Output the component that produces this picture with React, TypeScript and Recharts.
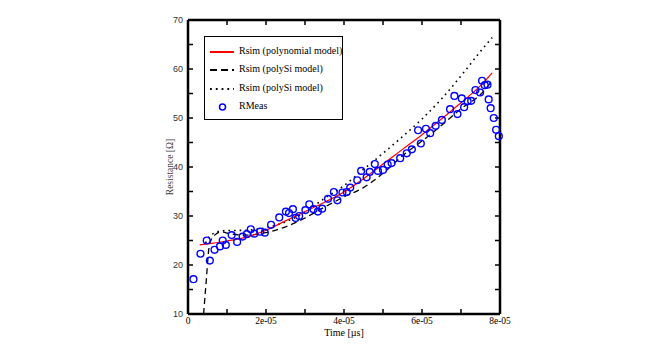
import React from 'react';
import {
  ComposedChart,
  Line,
  Scatter,
  XAxis,
  YAxis
} from 'recharts';

// time in units of 1e-5
const measTime = [
  0.14, 0.32, 0.48, 0.56, 0.68, 0.82, 0.89, 0.97, 1.12, 1.26, 1.4, 1.51, 1.61, 1.7, 1.85, 1.97,
  2.13, 2.34, 2.51, 2.59, 2.69, 2.76, 2.85, 3.01, 3.11, 3.22, 3.33, 3.44, 3.59, 3.74, 3.83, 3.96,
  4.07, 4.16, 4.34, 4.44, 4.58, 4.66, 4.79, 4.87, 5.0, 5.12, 5.22, 5.44, 5.61, 5.74, 5.9, 5.97,
  6.1, 6.21, 6.35, 6.51, 6.72, 6.83, 6.91, 7.02, 7.08, 7.17, 7.26, 7.37, 7.49, 7.54, 7.61, 7.68,
  7.71, 7.76, 7.84, 7.9, 7.97
];
const measR = [
  17.1, 22.3, 25.0, 20.9, 23.1, 23.8, 25.0, 24.1, 26.1, 24.7, 25.8, 26.3, 27.3, 26.4, 26.8, 26.6,
  28.2, 29.7, 30.9, 30.6, 31.4, 29.6, 30.0, 31.2, 32.4, 31.4, 30.9, 31.5, 33.5, 34.9, 33.2, 34.8,
  34.9, 35.8, 37.3, 39.2, 37.9, 39.0, 40.6, 39.2, 39.4, 40.5, 40.8, 41.8, 42.8, 43.6, 47.5, 44.8,
  47.8, 46.9, 48.4, 49.6, 51.8, 54.5, 50.8, 54.0, 52.2, 53.4, 53.5, 55.7, 55.2, 57.6, 56.7, 56.8,
  53.8, 52.0, 50.0, 47.6, 46.3
];

const polyTime = [0.3, 0.5, 1.0, 1.5, 2.0, 2.5, 3.0, 3.5, 4.0, 4.5, 5.0, 5.5, 6.0, 6.5, 7.0, 7.5, 7.8];
const polyR = [24.1, 24.3, 24.9, 25.7, 27.1, 29.0, 30.9, 32.8, 34.9, 37.6, 40.6, 43.6, 46.6, 49.8, 53.1, 56.6, 59.2];

const siTime = [0.4, 0.47, 0.53, 0.6, 0.7, 0.85, 1.0, 1.5, 2.0, 2.5, 3.0, 3.5, 4.0, 4.5, 5.0, 5.5, 6.0, 6.5, 7.0, 7.5, 7.8];
const siR = [10, 17, 23, 25.3, 26.2, 26.8, 26.5, 26.1, 26.6, 27.8, 29.6, 31.8, 33.9, 35.8, 38.7, 42.3, 45.3, 48.5, 51.9, 54.8, 57.6];

const si2Time = [0.45, 0.55, 0.7, 0.9, 1.5, 2.0, 2.5, 3.0, 3.5, 4.0, 4.5, 5.0, 5.5, 6.0, 6.5, 7.0, 7.5, 7.8];
const si2R = [24.5, 25.8, 26.6, 27.0, 27.1, 27.6, 28.8, 30.8, 33.6, 36.2, 39.5, 42.8, 46.2, 49.8, 53.9, 58.6, 63.6, 66.4];

const xTicks = [0, 1, 2, 3, 4, 5, 6, 7, 8];
const yTicks = [10, 15, 20, 25, 30, 35, 40, 45, 50, 55, 60, 65, 70];

const zip = (t: number[], r: number[]) => t.map((x, i) => ({ t: x, r: r[i] }));
const measData = zip(measTime, measR);
const polyData = zip(polyTime, polyR);
const siData = zip(siTime, siR);
const si2Data = zip(si2Time, si2R);

const fmtX = (v: number) => (v === 0 ? '0' : v % 2 === 0 ? `${v}e-05` : '');
const fmtY = (v: number) => (v % 10 === 0 ? String(v) : '');
const blank = () => '';

const frame = { stroke: '#000', strokeWidth: 2.5 };
const tickLine = { stroke: '#000', strokeWidth: 1.5 };

const legendRows = [
  { label: 'Rsim (polynomial model)', kind: 'solid' },
  { label: 'Rsim (polySi model)', kind: 'dash' },
  { label: 'Rsim (polySi model)', kind: 'dot' },
  { label: 'RMeas', kind: 'circle' }
];

function LegendBox() {
  return (
    <div
      style={{
        position: 'absolute',
        left: 204,
        top: 36,
        width: 139,
        height: 84,
        border: '1px solid #000',
        boxSizing: 'border-box',
        background: '#fff',
        fontFamily: '"Liberation Serif", serif',
        fontSize: 10,
        color: '#000'
      }}
    >
      {legendRows.map((row, i) => (
        <div key={i} style={{ position: 'absolute', left: 0, top: 9 + i * 18.3, height: 12, width: 139 }}>
          <svg width={32} height={12} style={{ position: 'absolute', left: 4, top: 0 }}>
            {row.kind === 'solid' && <line x1={1} y1={6} x2={25} y2={6} stroke="#ff0000" strokeWidth={2} />}
            {row.kind === 'dash' && <line x1={1} y1={6} x2={25} y2={6} stroke="#000" strokeWidth={2} strokeDasharray="7 4" />}
            {row.kind === 'dot' && <line x1={1} y1={6} x2={25} y2={6} stroke="#000" strokeWidth={1.8} strokeDasharray="1.8 4" />}
            {row.kind === 'circle' && <circle cx={13.5} cy={6} r={3} fill="none" stroke="#0000ff" strokeWidth={1.5} />}
          </svg>
          <span style={{ position: 'absolute', left: 34, top: -1, whiteSpace: 'nowrap', lineHeight: '12px' }}>{row.label}</span>
        </div>
      ))}
    </div>
  );
}

const Ring = (props: any) => {
  const { cx, cy } = props;
  return <circle cx={cx} cy={cy} r={3.4} fill="none" stroke="#0000ff" strokeWidth={1.4} />;
};

export default function App() {
  return (
    <div style={{ position: 'absolute', left: 0, top: 0, width: 657, height: 354, background: '#fff' }}>
      <ComposedChart
        width={657}
        height={354}
        margin={{ top: 15, right: 152, bottom: 0, left: 150 }}
        style={{ fontFamily: '"Liberation Serif", serif' }}
      >
        <XAxis
          dataKey="t"
          type="number"
          domain={[0, 8]}
          ticks={xTicks}
          tickFormatter={fmtX}
          interval={0}
          height={40}
          axisLine={frame}
          tickLine={tickLine}
          tickSize={-5}
          tickMargin={8}
          tick={{ fontSize: 9.5, fill: '#000' }}
          label={{ value: 'Time [µs]', position: 'insideBottom', offset: 18, fontSize: 10, fill: '#000' }}
        />
        <XAxis
          xAxisId="top"
          orientation="top"
          dataKey="t"
          type="number"
          domain={[0, 8]}
          ticks={xTicks}
          tickFormatter={blank}
          interval={0}
          height={5}
          axisLine={frame}
          tickLine={tickLine}
          tickSize={-5}
        />
        <YAxis
          type="number"
          domain={[10, 70]}
          ticks={yTicks}
          tickFormatter={fmtY}
          interval={0}
          width={38}
          axisLine={frame}
          tickLine={tickLine}
          tickSize={-5}
          tickMargin={10}
          tick={{ fontSize: 9, fill: '#333', fontFamily: '"Liberation Sans", sans-serif' }}
          label={{
            value: 'Resistance [Ω]',
            angle: -90,
            position: 'insideLeft',
            offset: 20,
            fontSize: 9.5,
            fill: '#444',
            style: { textAnchor: 'middle' }
          }}
        />
        <YAxis
          yAxisId="right"
          orientation="right"
          type="number"
          domain={[10, 70]}
          ticks={yTicks}
          tickFormatter={blank}
          interval={0}
          width={5}
          axisLine={frame}
          tickLine={tickLine}
          tickSize={-5}
        />
        <Line
          data={si2Data}
          dataKey="r"
          type="monotone"
          stroke="#000"
          strokeWidth={1.6}
          strokeDasharray="1.6 4"
          dot={false}
          isAnimationActive={false}
        />
        <Line
          data={siData}
          dataKey="r"
          type="monotone"
          stroke="#000"
          strokeWidth={1.3}
          strokeDasharray="6 4"
          dot={false}
          isAnimationActive={false}
        />
        <Line
          data={polyData}
          dataKey="r"
          type="monotone"
          stroke="#ff0000"
          strokeWidth={1.2}
          dot={false}
          isAnimationActive={false}
        />
        <Scatter data={measData} dataKey="r" shape={Ring} isAnimationActive={false} />
        {/* hidden series bound to the top / right frame axes */}
        <Line
          xAxisId="top"
          yAxisId="right"
          data={polyData}
          dataKey="r"
          stroke="transparent"
          dot={false}
          activeDot={false}
          isAnimationActive={false}
        />
      </ComposedChart>
      <LegendBox />
    </div>
  );
}
